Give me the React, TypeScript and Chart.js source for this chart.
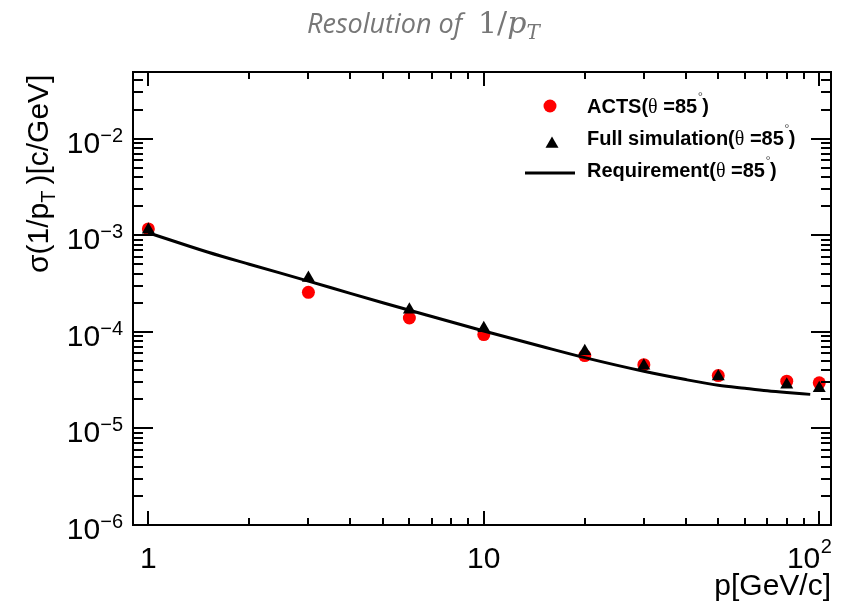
import React, { useEffect, useRef } from 'react';
import { Chart, registerables } from 'chart.js';

Chart.register(...registerables);

// ---- data ----
const momenta = [1, 3, 6, 10, 20, 30, 50, 80, 100];
const actsSigma = [1.16e-3, 2.56e-4, 1.39e-4, 9.35e-5, 5.67e-5, 4.57e-5, 3.52e-5, 3.08e-5, 2.96e-5];
const fullSimSigma = [1.14e-3, 3.6e-4, 1.69e-4, 1.09e-4, 6.3e-5, 4.45e-5, 3.45e-5, 2.83e-5, 2.61e-5];
const requirementP = [1, 1.5, 2, 3, 4, 5, 7, 10, 15, 20, 30, 40, 50, 60, 70, 80, 94];
const requirementSigma = [
  1.06e-3, 6.7e-4, 5.0e-4, 3.35e-4, 2.5e-4, 2.0e-4, 1.44e-4, 1.02e-4, 7.0e-5, 5.4e-5,
  3.9e-5, 3.2e-5, 2.8e-5, 2.6e-5, 2.45e-5, 2.35e-5, 2.25e-5,
];

const seriesNames = ['ACTS(', 'Full simulation(', 'Requirement('];
const thetaText = 'θ';
const angleText = ' =85';

const xTickValues = [1, 10, 100];
const xTickBase = ['1', '10', '10'];
const xTickExp = ['', '', '2'];
const yTickValues = [1e-2, 1e-3, 1e-4, 1e-5, 1e-6];
const yTickBase = ['10', '10', '10', '10', '10'];
const yTickExp = ['−2', '−3', '−4', '−5', '−6'];

const titleText = 'Resolution of';
const xAxisTitle = 'p[GeV/c]';
const yAxisTitleA = 'σ(1/p';
const yAxisTitleSub = 'T';
const yAxisTitleB = ')[c/GeV]';

const SANS = '"Liberation Sans", Arial, sans-serif';

function drawTriangle(ctx: CanvasRenderingContext2D, x: number, y: number, r: number) {
  ctx.beginPath();
  let rad = 0;
  ctx.moveTo(x + Math.sin(rad) * r, y - Math.cos(rad) * r);
  rad += (2 * Math.PI) / 3;
  ctx.lineTo(x + Math.sin(rad) * r, y - Math.cos(rad) * r);
  rad += (2 * Math.PI) / 3;
  ctx.lineTo(x + Math.sin(rad) * r, y - Math.cos(rad) * r);
  ctx.closePath();
  ctx.fill();
}

const rootStyle = {
  id: 'rootStyle',
  afterDraw(chart: any) {
    const ctx: CanvasRenderingContext2D = chart.ctx;
    const { left, right, top, bottom } = chart.chartArea;
    const xs = chart.scales.x;
    const ys = chart.scales.y;
    ctx.save();

    // frame
    ctx.strokeStyle = '#000';
    ctx.lineWidth = 2;
    ctx.strokeRect(left, top, right - left, bottom - top);

    // x ticks (bottom and top, inside)
    for (let d = 1; d <= 100; d *= 10) {
      for (let m = 1; m <= 9; m++) {
        const v = m * d;
        if (v < xs.min || v > xs.max) continue;
        const px = Math.round(xs.getPixelForValue(v));
        const len = m === 1 ? 14 : 7;
        ctx.beginPath();
        ctx.moveTo(px, bottom);
        ctx.lineTo(px, bottom - len);
        ctx.moveTo(px, top);
        ctx.lineTo(px, top + len);
        ctx.stroke();
      }
    }
    // y ticks (left and right, inside)
    for (let e = -6; e <= -2; e++) {
      for (let m = 1; m <= 9; m++) {
        const v = m * Math.pow(10, e);
        if (v < ys.min * 0.999 || v > ys.max) continue;
        const py = Math.round(ys.getPixelForValue(v));
        const len = m === 1 ? 20 : 10;
        ctx.beginPath();
        ctx.moveTo(left, py);
        ctx.lineTo(left + len, py);
        ctx.moveTo(right, py);
        ctx.lineTo(right - len, py);
        ctx.stroke();
      }
    }

    ctx.fillStyle = '#000';
    ctx.textBaseline = 'alphabetic';

    // x tick labels
    xTickValues.forEach((v, i) => {
      const px = xs.getPixelForValue(v);
      ctx.font = `30px ${SANS}`;
      const wb = ctx.measureText(xTickBase[i]).width;
      if (!xTickExp[i]) {
        ctx.textAlign = 'center';
        ctx.fillText(xTickBase[i], px, 568);
      } else {
        const x0 = px + 1 - wb;
        ctx.textAlign = 'left';
        ctx.fillText(xTickBase[i], x0, 568);
        ctx.font = `20px ${SANS}`;
        ctx.fillText(xTickExp[i], x0 + wb + 0.5, 553);
      }
    });

    // y tick labels
    yTickValues.forEach((v, i) => {
      const py = ys.getPixelForValue(v);
      ctx.textAlign = 'right';
      ctx.font = `20px ${SANS}`;
      const we = ctx.measureText(yTickExp[i]).width;
      ctx.fillText(yTickExp[i], 123, py + 3);
      ctx.font = `30px ${SANS}`;
      ctx.fillText(yTickBase[i], 123 - we, py + 14);
    });

    // x axis title
    ctx.font = `30px ${SANS}`;
    ctx.textAlign = 'right';
    ctx.fillText(xAxisTitle, right, 595);

    // y axis title (rotated)
    ctx.save();
    ctx.translate(48, 273);
    ctx.rotate(-Math.PI / 2);
    ctx.textAlign = 'left';
    let tx = 0;
    ctx.font = `30px ${SANS}`;
    ctx.fillText(yAxisTitleA, tx, 0);
    tx += ctx.measureText(yAxisTitleA).width;
    ctx.font = `20px ${SANS}`;
    ctx.fillText(yAxisTitleSub, tx, 7);
    tx += ctx.measureText(yAxisTitleSub).width + 6;
    ctx.font = `30px ${SANS}`;
    ctx.fillText(yAxisTitleB, tx, 0);
    ctx.restore();

    // legend
    const rowBase = [113, 145, 177];
    const ds = chart.data.datasets;
    ctx.fillStyle = ds[2].backgroundColor;
    ctx.beginPath();
    ctx.arc(550, 106, 6.5, 0, Math.PI * 2);
    ctx.fill();
    ctx.fillStyle = ds[0].backgroundColor;
    drawTriangle(ctx, 552, 144, 7.5);
    ctx.strokeStyle = ds[1].borderColor;
    ctx.lineWidth = 3;
    ctx.beginPath();
    ctx.moveTo(525, 173);
    ctx.lineTo(575, 173);
    ctx.stroke();

    ctx.fillStyle = '#000';
    ctx.textAlign = 'left';
    seriesNames.forEach((name, i) => {
      const by = rowBase[i];
      let x = 587;
      ctx.font = `bold 20px ${SANS}`;
      ctx.fillText(name, x, by);
      x += ctx.measureText(name).width;
      ctx.font = `20px "Liberation Serif", serif`;
      ctx.fillText(thetaText, x, by);
      x += ctx.measureText(thetaText).width;
      ctx.font = `bold 20px ${SANS}`;
      ctx.fillText(angleText, x, by);
      x += ctx.measureText(angleText).width;
      ctx.font = `13px ${SANS}`;
      ctx.fillStyle = '#555';
      ctx.fillText('°', x + 0.5, by - 12);
      ctx.fillStyle = '#000';
      ctx.font = `bold 20px ${SANS}`;
      ctx.fillText(')', x + 5, by);
    });

    // chart title
    ctx.fillStyle = '#777777';
    ctx.textAlign = 'left';
    ctx.font = `italic 27px "Open Sans", sans-serif`;
    ctx.fillText(titleText, 307, 33);
    let mx = 478;
    ctx.font = `30px "DejaVu Serif", serif`;
    ctx.fillText('1/', mx, 33);
    mx += ctx.measureText('1/').width;
    ctx.font = `italic 30px "DejaVu Serif", serif`;
    ctx.fillText('p', mx, 33);
    mx += ctx.measureText('p').width;
    ctx.font = `italic 20px "DejaVu Serif", serif`;
    ctx.fillText('T', mx, 39);

    ctx.restore();
  },
};

export default function App() {
  const canvasRef = useRef<HTMLCanvasElement | null>(null);

  useEffect(() => {
    const canvas = canvasRef.current;
    if (!canvas) return;
    const chart = new Chart(canvas, {
      type: 'scatter',
      data: {
        datasets: [
          {
            label: 'Full simulation(θ =85°)',
            data: momenta.map((p, i) => ({ x: p, y: fullSimSigma[i] })),
            pointStyle: 'triangle',
            pointRadius: 7.5,
            pointBorderWidth: 0,
            backgroundColor: '#000000',
            borderColor: '#000000',
            showLine: false,
            order: 0,
          },
          {
            label: 'Requirement(θ =85°)',
            data: requirementP.map((p, i) => ({ x: p, y: requirementSigma[i] })),
            showLine: true,
            borderColor: '#000000',
            backgroundColor: '#000000',
            borderWidth: 3,
            pointRadius: 0,
            cubicInterpolationMode: 'monotone',
            order: 1,
          },
          {
            label: 'ACTS(θ =85°)',
            data: momenta.map((p, i) => ({ x: p, y: actsSigma[i] })),
            pointStyle: 'circle',
            pointRadius: 6.5,
            pointBorderWidth: 0,
            backgroundColor: '#ff0000',
            borderColor: '#ff0000',
            showLine: false,
            order: 2,
          },
        ],
      } as any,
      options: {
        responsive: false,
        animation: false,
        events: [],
        layout: { padding: { left: 133, right: 10, top: 72, bottom: 78 } },
        scales: {
          x: { type: 'logarithmic', min: 0.9, max: 108.4, display: false },
          y: { type: 'logarithmic', min: 1e-6, max: 0.0489, display: false },
        },
        plugins: {
          legend: { display: false },
          tooltip: { enabled: false },
          title: { display: false },
        },
      } as any,
      plugins: [rootStyle as any],
    });
    return () => chart.destroy();
  }, []);

  return (
    <div style={{ position: 'absolute', left: 0, top: 0, width: 841, height: 603, background: '#fff' }}>
      <canvas ref={canvasRef} width={841} height={603} style={{ display: 'block' }} />
    </div>
  );
}
